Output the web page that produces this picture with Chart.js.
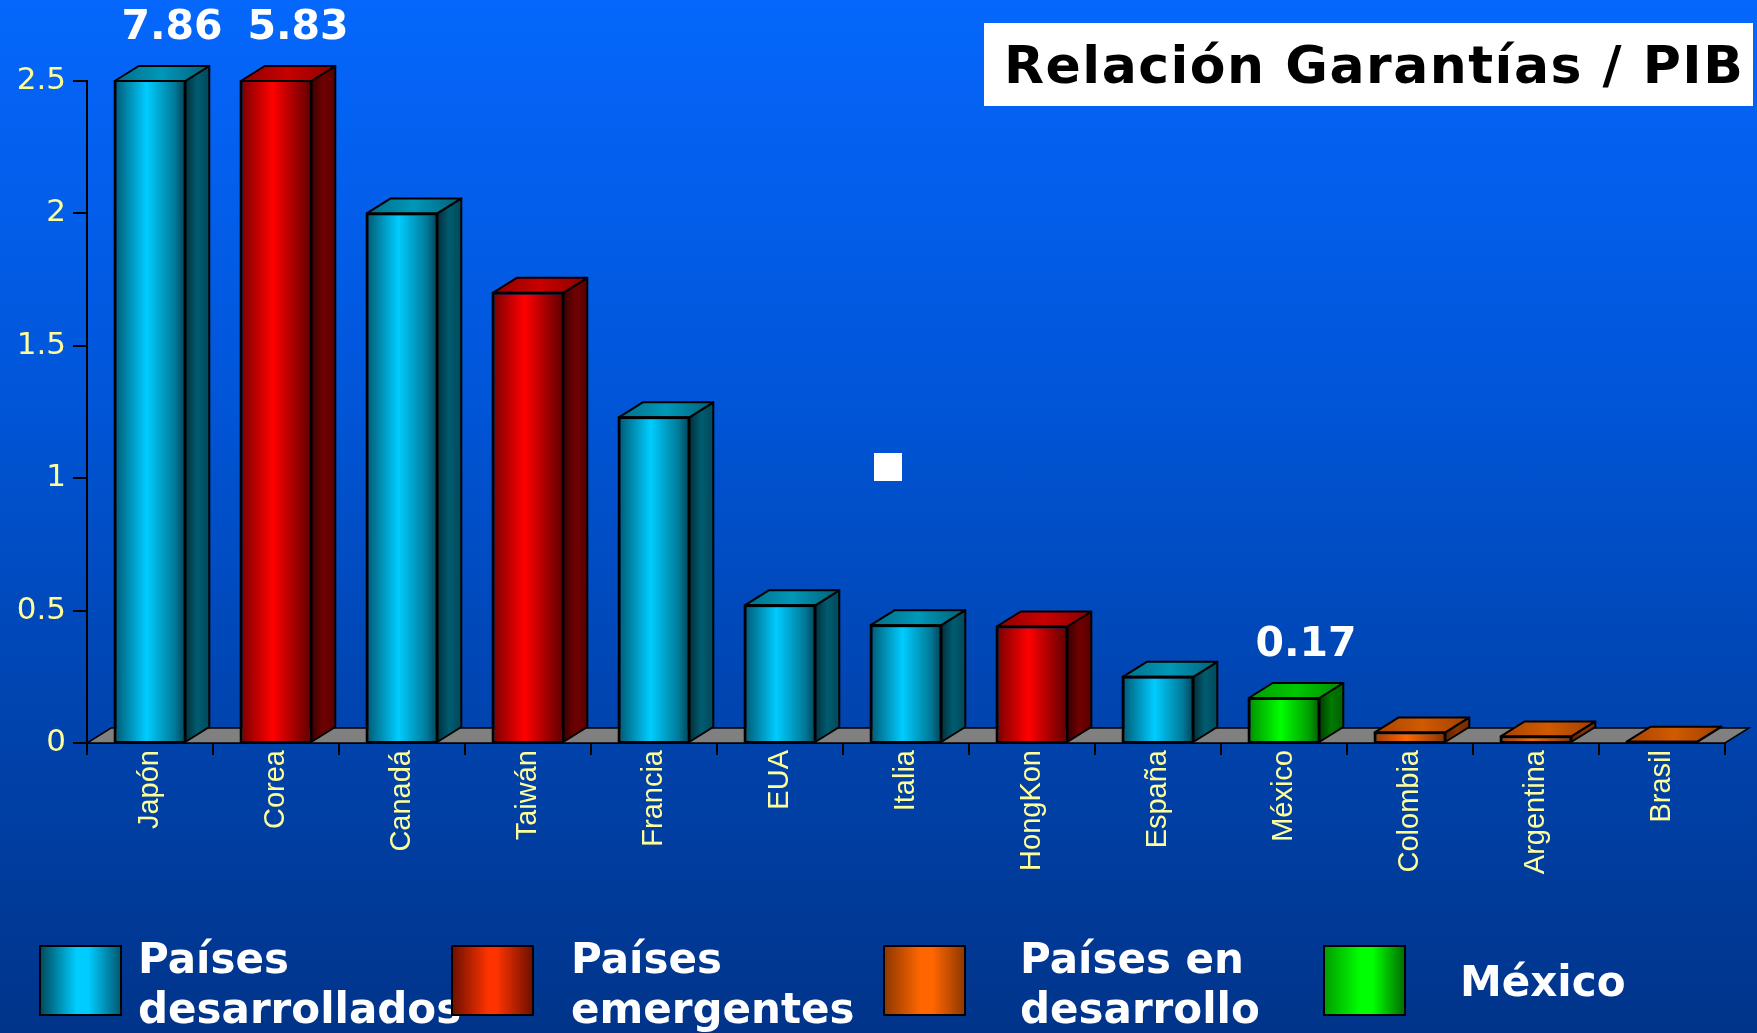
<!DOCTYPE html>
<html lang="es">
<head>
<meta charset="utf-8">
<title>Relación Garantías / PIB</title>
<script src="https://cdn.jsdelivr.net/npm/chart.js@4.4.1/dist/chart.umd.min.js"></script>
<style>
html, body { margin: 0; padding: 0; }
body {
  width: 1757px; height: 1033px; overflow: hidden; position: relative;
  background: linear-gradient(to bottom, #0567fc 0%, #0157dc 35%, #0046b4 65%, #00348a 100%);
  font-family: "DejaVu Sans", sans-serif;
}
#grafica { position: absolute; left: 0; top: 0; }
#titulo {
  position: absolute; left: 984px; top: 23px; width: 769px; height: 83px;
  background: #fff; color: #000; font-weight: bold; font-size: 52px;
  line-height: 85px; letter-spacing: 1.5px; padding-left: 20px; box-sizing: border-box;
  white-space: nowrap; overflow: hidden;
}
#cuadro { position: absolute; left: 874px; top: 453px; width: 28px; height: 28px; background: #fff; }
.muestra { position: absolute; top: 945px; width: 83px; height: 71px; border: 2px solid #000; box-sizing: border-box; }
.texto { position: absolute; color: #fff; font-weight: bold; font-size: 42px; line-height: 50px; white-space: nowrap; }
</style>
</head>
<body>
<canvas id="grafica" width="1757" height="1033"></canvas>
<div id="titulo">Relación Garantías / PIB</div>
<div id="cuadro"></div>
<div id="leyenda"></div>

<script>
// datos
const paises = ['Japón', 'Corea', 'Canadá', 'Taiwán', 'Francia', 'EUA', 'Italia', 'HongKon', 'España', 'México', 'Colombia', 'Argentina', 'Brasil'];
const valores = [7.86, 5.83, 2.0, 1.7, 1.23, 0.52, 0.445, 0.44, 0.25, 0.17, 0.04, 0.025, 0.005];
const grupos = ['des', 'emg', 'des', 'emg', 'des', 'des', 'des', 'emg', 'des', 'mex', 'enD', 'enD', 'enD'];
const ticksY = [0, 0.5, 1, 1.5, 2, 2.5];
const etiquetasY = ['0', '0.5', '1', '1.5', '2', '2.5'];
const conEtiqueta = [0, 1, 9]; // barras con el valor escrito encima
const leyendaTextos = [['Países', 'desarrollados'], ['Países', 'emergentes'], ['Países en', 'desarrollo'], ['México']];
const leyendaGrupos = ['des', 'emg', 'enD', 'mex'];

// colores por grupo (frente, lado, techo)
const colores = {
  des: { frente: ['#005a74', '#00ccff', '#007a98', '#004458'], lado: ['#002f3b', '#005c70', '#00495a'], techo: ['#006e88', '#0097b8', '#006078'], plano: '#00ccff' },
  emg: { frente: ['#7a0000', '#ff0000', '#8a0000', '#600000'], lado: ['#3a0000', '#700000', '#5a0000'], techo: ['#900000', '#c80000', '#8a0000'], plano: '#ff0000' },
  mex: { frente: ['#009000', '#00ff00', '#00a000', '#006000'], lado: ['#003d00', '#007a00', '#006000'], techo: ['#009a00', '#00c800', '#008a00'], plano: '#00ff00' },
  enD: { frente: ['#a03c00', '#ff6600', '#a84400', '#803000'], lado: ['#5a2000', '#8a3400', '#702a00'], techo: ['#a84400', '#d05a00', '#a04000'], plano: '#ff6600' }
};
const swatch = {
  des: 'linear-gradient(to right, #004c60, #00ccff 45%, #00ccff 60%, #005a74)',
  emg: 'linear-gradient(to right, #701000, #ff3300 45%, #ff3300 55%, #701000)',
  enD: 'linear-gradient(to right, #903800, #ff6600 45%, #ff6600 60%, #903800)',
  mex: 'linear-gradient(to right, #00a000, #00ff00 45%, #00ff00 60%, #007000)'
};

const DX = 24, DY = 15; // profundidad del efecto 3D
const fraccion = 0.56;

Chart.defaults.font.family = '"Liberation Sans", Arial, sans-serif';

function degradado(ctx, x0, x1, stops) {
  const g = ctx.createLinearGradient(x0, 0, x1, 0);
  if (stops.length === 4) {
    g.addColorStop(0, stops[0]); g.addColorStop(0.45, stops[1]);
    g.addColorStop(0.85, stops[2]); g.addColorStop(1, stops[3]);
  } else {
    g.addColorStop(0, stops[0]); g.addColorStop(0.5, stops[1]); g.addColorStop(1, stops[2]);
  }
  return g;
}

// piso gris, caras laterales, techos y valores
const cubos = {
  id: 'cubos',
  beforeDatasetsDraw(chart) {
    const { ctx, chartArea: a } = chart;
    const base = chart.scales.y.getPixelForValue(0);
    ctx.save();
    ctx.beginPath();
    ctx.moveTo(a.left, base);
    ctx.lineTo(a.right, base);
    ctx.lineTo(a.right + DX, base - DY);
    ctx.lineTo(a.left + DX, base - DY);
    ctx.closePath();
    ctx.fillStyle = '#808080';
    ctx.fill();
    ctx.strokeStyle = '#000';
    ctx.lineWidth = 1.5;
    ctx.stroke();
    ctx.restore();
  },
  afterDatasetsDraw(chart) {
    const { ctx, chartArea: a } = chart;
    const meta = chart.getDatasetMeta(0);
    ctx.save();
    ctx.lineWidth = 2;
    ctx.strokeStyle = '#000';
    ctx.lineJoin = 'round';
    meta.data.forEach((bar, i) => {
      const { x, y, base, width } = bar.getProps(['x', 'y', 'base', 'width'], true);
      const c = colores[grupos[i]];
      const top = Math.max(y, a.top);
      const l = x - width / 2, r = x + width / 2;
      // lado derecho
      ctx.beginPath();
      ctx.moveTo(r, top);
      ctx.lineTo(r + DX, top - DY);
      ctx.lineTo(r + DX, base - DY);
      ctx.lineTo(r, base);
      ctx.closePath();
      ctx.fillStyle = degradado(ctx, r, r + DX, c.lado);
      ctx.fill();
      ctx.stroke();
      // techo
      ctx.beginPath();
      ctx.moveTo(l, top);
      ctx.lineTo(l + DX, top - DY);
      ctx.lineTo(r + DX, top - DY);
      ctx.lineTo(r, top);
      ctx.closePath();
      ctx.fillStyle = degradado(ctx, l, r + DX, c.techo);
      ctx.fill();
      ctx.stroke();
      // contorno del frente
      ctx.strokeRect(l, top, width, base - top);
    });
    // valores escritos
    ctx.fillStyle = '#fff';
    ctx.font = 'bold 41px "DejaVu Sans"';
    ctx.textAlign = 'center';
    ctx.textBaseline = 'alphabetic';
    conEtiqueta.forEach(i => {
      const bar = meta.data[i];
      const top = Math.max(bar.y, a.top);
      ctx.fillText(valores[i].toFixed(2), bar.x + 22, top - DY - 27);
    });
    ctx.restore();
  }
};

new Chart(document.getElementById('grafica'), {
  type: 'bar',
  data: {
    labels: paises,
    datasets: [{
      data: valores,
      backgroundColor: c => {
        const ch = c.chart;
        const xs = ch.scales.x;
        const g = colores[grupos[c.dataIndex]];
        if (!xs || !ch.chartArea) return g.plano;
        const cx = xs.getPixelForValue(c.dataIndex);
        const w = xs.width / paises.length * fraccion;
        return degradado(ch.ctx, cx - w / 2, cx + w / 2, g.frente);
      },
      borderColor: '#000',
      borderWidth: 2,
      categoryPercentage: 1,
      barPercentage: fraccion
    }]
  },
  options: {
    responsive: false,
    animation: false,
    devicePixelRatio: 1,
    layout: { padding: { top: 81, left: 0, right: 32, bottom: 110 } },
    plugins: { legend: { display: false }, tooltip: { enabled: false } },
    scales: {
      x: {
        offset: true,
        grid: { offset: true, drawOnChartArea: false, color: '#000', lineWidth: 2, tickLength: 12 },
        border: { display: true, color: '#000', width: 2 },
        ticks: { color: '#ffff99', autoSkip: false, minRotation: 90, maxRotation: 90, padding: -5, font: { size: 29 } },
        afterFit: s => { s.height = 180; }
      },
      y: {
        min: 0, max: 2.5,
        afterBuildTicks: s => { s.ticks = ticksY.map(v => ({ value: v })); },
        grid: { drawOnChartArea: false, color: '#000', lineWidth: 2, tickLength: 14 },
        border: { display: true, color: '#000', width: 2 },
        ticks: { color: '#ffff99', padding: 7, font: { family: '"DejaVu Sans"', size: 31 }, callback: (v, i) => etiquetasY[i] },
        afterFit: s => { s.width = 87; }
      }
    }
  },
  plugins: [cubos]
});

// leyenda en HTML
const posMuestra = [39, 451, 883, 1323];
const posTexto = [138, 571, 1020, 1460];
const leyenda = document.getElementById('leyenda');
leyendaGrupos.forEach((g, i) => {
  const m = document.createElement('div');
  m.className = 'muestra';
  m.style.left = posMuestra[i] + 'px';
  m.style.background = swatch[g];
  leyenda.appendChild(m);
  const t = document.createElement('div');
  t.className = 'texto';
  t.style.left = posTexto[i] + 'px';
  t.style.top = (leyendaTextos[i].length > 1 ? 934 : 957) + 'px';
  t.innerHTML = leyendaTextos[i].join('<br>');
  leyenda.appendChild(t);
});
</script>
</body>
</html>
